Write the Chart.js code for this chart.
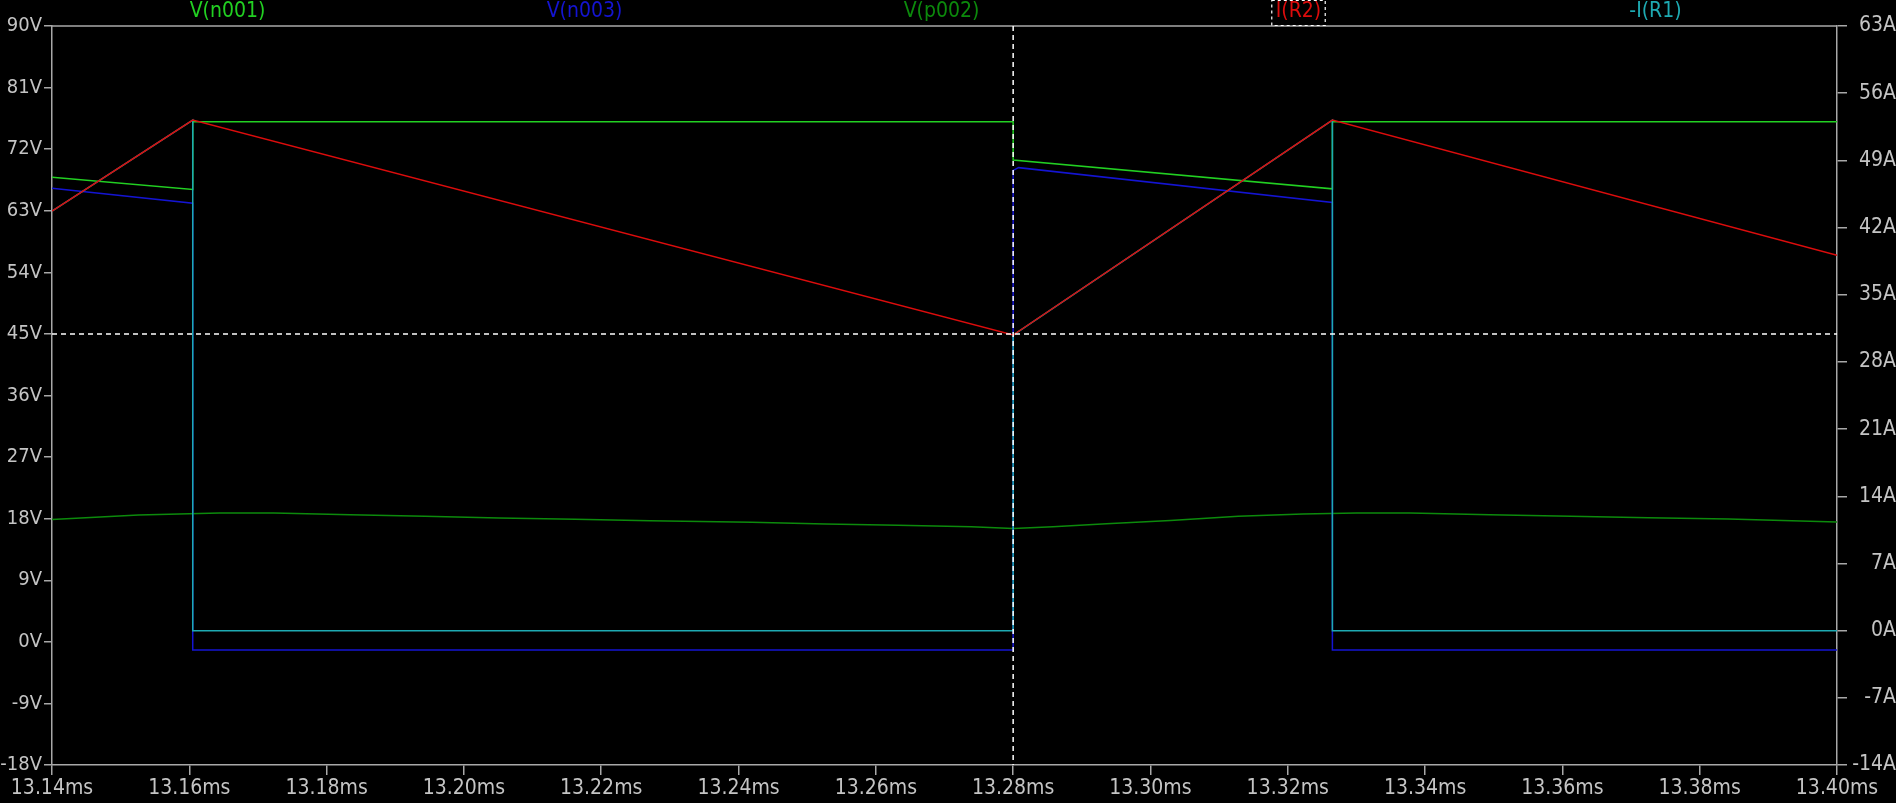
<!DOCTYPE html>
<html lang="en">
<head>
    <meta charset="UTF-8">
    <title>LTspice transient</title>
    <script src="https://cdn.jsdelivr.net/npm/chart.js"></script>
    <style>
        html, body { margin: 0; padding: 0; background: #000; }
        canvas { display: block; }
    </style>
</head>
<body>
    <canvas id="wave" width="1896" height="803"></canvas>

    <script>
        // time axis in ms
        const timeTicks = [13.14, 13.16, 13.18, 13.20, 13.22, 13.24, 13.26, 13.28, 13.30, 13.32, 13.34, 13.36, 13.38, 13.40];
        const traceNames = ['V(n001)', 'V(n003)', 'V(p002)', 'I(R2)', '-I(R1)'];

        // V(n001), left axis
        const tN001 = [13.14, 13.1605, 13.1605, 13.28, 13.28, 13.3265, 13.3265, 13.40];
        const vN001 = [67.9, 66.1, 76.0, 76.0, 70.4, 66.2, 76.0, 76.0];

        // V(n003), left axis
        const tN003 = [13.14, 13.1605, 13.1605, 13.28, 13.28, 13.2808, 13.3265, 13.3265, 13.40];
        const vN003 = [66.3, 64.1, -1.2, -1.2, 68.9, 69.3, 64.2, -1.2, -1.2];

        // V(p002), left axis
        const tP002 = [13.14, 13.1526, 13.1644, 13.1723, 13.1834, 13.1943, 13.2051, 13.2162, 13.2271, 13.2419, 13.2526,
                       13.2632, 13.2739, 13.28, 13.2858, 13.2936, 13.3029, 13.3128, 13.3222, 13.33, 13.3378, 13.3494,
                       13.3612, 13.3725, 13.3842, 13.40];
        const vP002 = [17.86, 18.53, 18.83, 18.83, 18.59, 18.34, 18.09, 17.90, 17.71, 17.46, 17.21,
                       17.02, 16.83, 16.58, 16.83, 17.27, 17.75, 18.34, 18.68, 18.83, 18.83, 18.59,
                       18.34, 18.15, 17.94, 17.50];

        // I(R2), right axis
        const tR2 = [13.14, 13.1605, 13.28, 13.3265, 13.40];
        const iR2 = [43.7, 53.2, 30.8, 53.2, 39.1];

        // -I(R1), right axis
        const tR1 = [13.14, 13.1605, 13.1605, 13.28, 13.28, 13.3265, 13.3265, 13.40];
        const iR1 = [43.7, 53.2, 0, 0, 30.8, 53.2, 0, 0];

        // cursor position
        const cursorT = 13.28;
        const cursorV = 45;

        const colN001 = '#22d022';
        const colN003 = '#1414d2';
        const colP002 = '#0c8a0c';
        const colR2 = '#dc0c0c';
        const colR1 = '#1eaab2';
        const axisCol = '#a8a8a8';
        const textCol = '#c4c4c4';
        const fontFam = '"Liberation Sans Narrow", "DejaVu Sans Condensed", "Arial Narrow", sans-serif';

        function pts(ts, vs) {
            return ts.map((t, i) => ({ x: t, y: vs[i] }));
        }

        const blackBg = {
            id: 'blackBg',
            beforeDraw(chart) {
                const c = chart.ctx;
                c.save();
                c.fillStyle = '#000';
                c.fillRect(0, 0, chart.width, chart.height);
                c.restore();
            }
        };

        const frameAndCursor = {
            id: 'frameAndCursor',
            afterDatasetsDraw(chart) {
                const c = chart.ctx;
                const a = chart.chartArea;
                c.save();
                // top frame line
                c.strokeStyle = axisCol;
                c.lineWidth = 1.5;
                c.beginPath();
                c.moveTo(a.left, a.top);
                c.lineTo(a.right, a.top);
                c.stroke();
                // dashed cursor
                const cx = chart.scales.x.getPixelForValue(cursorT);
                const cy = chart.scales.y.getPixelForValue(cursorV);
                c.strokeStyle = '#ffffff';
                c.lineWidth = 1.5;
                c.setLineDash([5, 4]);
                c.beginPath();
                c.moveTo(cx, a.top);
                c.lineTo(cx, a.bottom);
                c.moveTo(a.left, cy);
                c.lineTo(a.right, cy);
                c.stroke();
                c.restore();
            },
            afterDraw(chart) {
                const c = chart.ctx;
                const a = chart.chartArea;
                const cols = [colN001, colN003, colP002, colR2, colR1];
                const slot = (a.right - a.left) / traceNames.length;
                c.save();
                c.font = '21px ' + fontFam;
                c.textAlign = 'center';
                c.textBaseline = 'middle';
                traceNames.forEach((name, i) => {
                    const x = a.left + slot * (i + 0.5) - 3;
                    c.fillStyle = cols[i];
                    c.fillText(name, x, 12);
                    if (name === 'I(R2)') {
                        const w = c.measureText(name).width;
                        c.strokeStyle = '#ffffff';
                        c.lineWidth = 1.2;
                        c.setLineDash([3, 3]);
                        c.strokeRect(x - w / 2 - 4, 0.5, w + 8, a.top - 1);
                        c.setLineDash([]);
                    }
                });
                c.restore();
            }
        };

        const tickFont = { family: fontFam, size: 21 };
        const leftFont = { family: fontFam, size: 20 };

        new Chart(document.getElementById('wave').getContext('2d'), {
            type: 'line',
            data: {
                datasets: [{
                    label: 'I(R2)',
                    data: pts(tR2, iR2),
                    yAxisID: 'y1',
                    borderColor: colR2,
                    borderWidth: 1.5
                }, {
                    label: '-I(R1)',
                    data: pts(tR1, iR1),
                    yAxisID: 'y1',
                    borderColor: colR1,
                    borderWidth: 1.5
                }, {
                    label: 'V(n001)',
                    data: pts(tN001, vN001),
                    yAxisID: 'y',
                    borderColor: colN001,
                    borderWidth: 1.5
                }, {
                    label: 'V(n003)',
                    data: pts(tN003, vN003),
                    yAxisID: 'y',
                    borderColor: colN003,
                    borderWidth: 1.5
                }, {
                    label: 'V(p002)',
                    data: pts(tP002, vP002),
                    yAxisID: 'y',
                    borderColor: colP002,
                    borderWidth: 1.5
                }]
            },
            options: {
                responsive: false,
                animation: false,
                events: [],
                elements: { point: { radius: 0 }, line: { tension: 0, fill: false } },
                layout: { padding: { top: 26, left: 0, right: 0, bottom: 0 } },
                plugins: { legend: { display: false }, tooltip: { enabled: false } },
                scales: {
                    x: {
                        type: 'linear',
                        min: 13.14,
                        max: 13.40,
                        afterBuildTicks: s => { s.ticks = timeTicks.map(v => ({ value: v })); },
                        afterFit: s => { s.height = 38; },
                        ticks: {
                            color: textCol,
                            font: tickFont,
                            padding: 1,
                            maxRotation: 0,
                            autoSkip: false,
                            callback: v => v.toFixed(2) + 'ms'
                        },
                        grid: { drawOnChartArea: false, tickLength: 10, color: axisCol, lineWidth: 1.5 },
                        border: { color: axisCol, width: 1.5 }
                    },
                    y: {
                        position: 'left',
                        min: -18,
                        max: 90,
                        afterFit: s => { s.width = 52; },
                        ticks: { stepSize: 9, color: textCol, font: leftFont, padding: 2, callback: v => v + 'V' },
                        grid: { drawOnChartArea: false, tickLength: 8, color: axisCol, lineWidth: 1.5 },
                        border: { color: axisCol, width: 1.5 }
                    },
                    y1: {
                        position: 'right',
                        min: -14,
                        max: 63,
                        afterFit: s => { s.width = 59; },
                        ticks: { stepSize: 7, color: textCol, font: tickFont, padding: 10, crossAlign: 'far', callback: v => v + 'A' },
                        grid: { drawOnChartArea: false, tickLength: 10, color: axisCol, lineWidth: 1.5 },
                        border: { color: axisCol, width: 1.5 }
                    }
                }
            },
            plugins: [blackBg, frameAndCursor]
        });
    </script>
</body>
</html>
